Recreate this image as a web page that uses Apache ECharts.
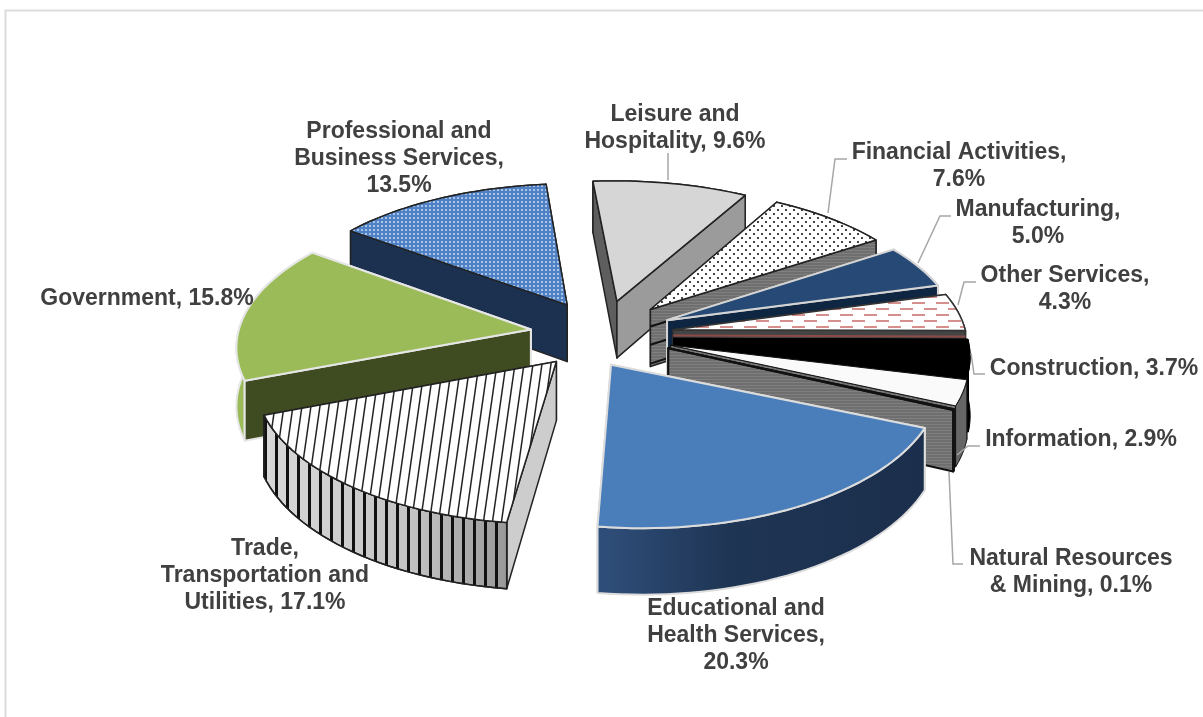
<!DOCTYPE html>
<html>
<head>
<meta charset="utf-8">
<title>Employment by industry</title>
<script src="https://cdn.jsdelivr.net/npm/echarts@6/dist/echarts.min.js"></script>
<style>
  html, body { margin: 0; padding: 0; background: #fff; }
  #chart { width: 1203px; height: 717px; }
</style>
</head>
<body>
<div id="chart"></div>
<script>
// values, clockwise from the top
const categories = ['Leisure and\nHospitality', 'Financial Activities', 'Manufacturing', 'Other Services', 'Construction',
  'Information', 'Natural Resources\n& Mining', 'Educational and\nHealth Services', 'Trade,\nTransportation and\nUtilities',
  'Government', 'Professional and\nBusiness Services'];
const shares = [9.6, 7.6, 5.0, 4.3, 3.7, 2.9, 0.1, 20.3, 17.1, 15.8, 13.5];
const labelSeparators = [', ', ',\n', ',\n', ',\n', ', ', ', ', ', ', ',\n', ', ', ', ', ',\n'];

// painter's order, back slices first
const drawOrder = [0, 10, 1, 2, 3, 9, 4, 5, 6, 8, 7];

// 3d pie settings
const centerX = 602, centerY = 334;
const radius = 293, explode = 72, depth = 58;
const tilt = 0.476, perspective = 0.000358;
const firstAngle = -5;
const apexNudge = [0, 0, 0, 0, 0, 0, 0, -26, 0, 0, 0];

function makeTile(w, h, draw) {
  const c = document.createElement('canvas');
  c.width = w;
  c.height = h;
  draw(c.getContext('2d'));
  return { image: c, repeat: 'repeat' };
}

const dotsFill = makeTile(8, 8, function (g) {
  g.fillStyle = '#fff'; g.fillRect(0, 0, 8, 8);
  g.fillStyle = '#444';
  g.fillRect(1, 1, 2, 2); g.fillRect(5, 5, 2, 2);
});
const gridFill = makeTile(4, 4, function (g) {
  g.fillStyle = '#4f81c4'; g.fillRect(0, 0, 4, 4);
  g.fillStyle = '#a9c6ea'; g.fillRect(1, 1, 2, 2);
});
const dashFill = makeTile(24, 12, function (g) {
  g.fillStyle = '#fff'; g.fillRect(0, 0, 24, 12);
  g.fillStyle = '#d58f8d';
  g.fillRect(0, 2, 13, 2);
  g.fillRect(12, 8, 12, 2); g.fillRect(0, 8, 1, 2);
});
const slantFill = makeTile(9, 63, function (g) {
  g.fillStyle = '#fff'; g.fillRect(0, 0, 9, 63);
  g.strokeStyle = '#222'; g.lineWidth = 1.5;
  [-9, 0, 9].forEach(function (o) {
    g.beginPath(); g.moveTo(o, 63); g.lineTo(o + 9, 0); g.stroke();
  });
});
const barsFill = makeTile(11, 4, function (g) {
  g.fillStyle = '#111'; g.fillRect(0, 0, 3, 4);
});
const wallLines = makeTile(4, 3, function (g) {
  g.fillStyle = '#6f6f6f'; g.fillRect(0, 0, 4, 3);
  g.fillStyle = '#7f7f7f'; g.fillRect(0, 1, 4, 1);
});
const eduWall = new echarts.graphic.LinearGradient(0, 0, 1, 0, [
  { offset: 0, color: '#2f4f7b' }, { offset: 0.4, color: '#1f3554' }, { offset: 1, color: '#1b2f4c' }
]);
const tradeWall = new echarts.graphic.LinearGradient(0, 0, 1, 0, [
  { offset: 0, color: '#d8d8d8' }, { offset: 0.6, color: '#c4c4c4' }, { offset: 1, color: '#999' }
]);

// top, wall at start angle, wall at end angle, outer wall, outline, outline width
const sliceStyles = [
  { top: '#d6d6d6', start: '#5e5e5e', end: '#9b9b9b', outer: '#9b9b9b', line: '#222', width: 1.5 },
  { top: dotsFill, start: '#999', end: wallLines, outer: '#8c8c8c', line: '#222', width: 1.5, bands: [0.3, 0.62, 0.95], bandColor: '#111' },
  { top: '#264a75', start: '#0f2642', end: '#0f2642', outer: '#1a3658', line: '#d4d4d4', width: 2 },
  { top: dashFill, start: '#444', end: '#444', outer: '#777', line: '#333', width: 1.5, bands: [0.1], bandColor: '#8c4b49' },
  { top: '#000', start: '#000', end: '#000', outer: '#000', line: '#000', width: 1 },
  { top: '#fafafa', start: wallLines, end: wallLines, outer: '#666', line: '#111', width: 1 },
  { top: '#000', start: wallLines, end: wallLines, outer: '#000', line: '#111', width: 2 },
  { top: '#4a7ebb', start: '#1c3050', end: '#1c3050', outer: eduWall, line: '#dcdcdc', width: 2 },
  { top: slantFill, start: '#cdcdcd', end: '#cdcdcd', outer: tradeWall, outerOver: barsFill, line: '#222', width: 1.5 },
  { top: '#9bbb59', start: '#3f4b20', end: '#3f4b20', outer: '#9bbb59', line: '#e6e6e6', width: 2 },
  { top: gridFill, start: '#1c314f', end: '#1c314f', outer: '#1c314f', line: '#222', width: 1.5 }
];

function project(x, y, z) {
  const s = 1 / (1 + perspective * y);
  return [centerX + x * s, centerY - (tilt * y + z) * s];
}

function rad(d) { return d * Math.PI / 180; }

// slice angles come from the shares
const sliceAngles = [];
shares.reduce(function (sum, v) {
  sliceAngles.push([firstAngle + sum * 3.6, firstAngle + (sum + v) * 3.6]);
  return sum + v;
}, 0);

function renderSlice(params, api) {
  const i = drawOrder[params.dataIndex];
  const st = sliceStyles[i];
  const a0 = sliceAngles[i][0], a1 = sliceAngles[i][1];
  const mid = rad((a0 + a1) / 2);
  const ox = explode * Math.sin(mid), oy = explode * Math.cos(mid);

  const apex = function (z) { return project(ox + apexNudge[i], oy, z); };
  const rim = function (a, z) {
    return project(ox + radius * Math.sin(rad(a)), oy + radius * Math.cos(rad(a)), z);
  };
  const arc = function (z) {
    const pts = [];
    const n = Math.max(2, Math.ceil((a1 - a0) / 2));
    for (let k = 0; k <= n; k++) pts.push(rim(a0 + (a1 - a0) * k / n, z));
    return pts;
  };
  const outline = { stroke: st.line, lineWidth: st.width, lineJoin: 'round' };
  const poly = function (points, fill) {
    return { type: 'polygon', silent: true, shape: { points: points }, style: Object.assign({ fill: fill }, outline) };
  };
  const radial = function (a, fill) {
    const out = [poly([apex(0), rim(a, 0), rim(a, -depth), apex(-depth)], fill)];
    (st.bands || []).forEach(function (b) {
      out.push({
        type: 'polyline', silent: true,
        shape: { points: [apex(-depth * b), rim(a, -depth * b)] },
        style: { stroke: st.bandColor, lineWidth: 2, fill: null }
      });
    });
    return out;
  };

  const walls = [
    { y: oy + radius * Math.cos(rad(a0)) / 2, els: radial(a0, st.start) },
    { y: oy + radius * Math.cos(rad(a1)) / 2, els: radial(a1, st.end) }
  ];
  const band = arc(0).concat(arc(-depth).reverse());
  const outerEls = [poly(band, st.outer)];
  if (st.outerOver) outerEls.push(poly(band, st.outerOver));
  walls.push({ y: oy + radius * 0.9 * Math.cos(mid), els: outerEls });
  walls.sort(function (a, b) { return b.y - a.y; });

  let children = [];
  walls.forEach(function (w) { children = children.concat(w.els); });
  children.push(poly([apex(0)].concat(arc(0)), st.top));
  return { type: 'group', children: children };
}

// label anchor is the centre of the first line
const labelPlaces = [
  [675, 101], [959, 139], [1038, 196], [1065, 262], [1094, 355],
  [1081, 426], [1071, 545], [736, 595], [265, 535], [147, 285], [399, 118]
];
const leaders = [
  [[668, 180], [668, 153]],
  [[828, 213], [835, 159], [847, 159]],
  [[918, 263], [940, 216], [951, 216]],
  [[958, 305], [964, 282], [976, 282]],
  [[971, 353], [974, 374], [985, 374]],
  [[957, 455], [968, 446], [980, 446]],
  [[949, 472], [953, 564], [963, 564]]
];

const graphics = [{
  type: 'polyline', silent: true, z: 0,
  shape: { points: [[5.5, 717], [5.5, 10.5], [1203, 10.5]] },
  style: { stroke: '#dcdcdc', lineWidth: 2, fill: null }
}];
leaders.forEach(function (pts) {
  graphics.push({
    type: 'polyline', silent: true, z: 50,
    shape: { points: pts },
    style: { stroke: '#a6a6a6', lineWidth: 1.5, fill: null }
  });
});
categories.forEach(function (name, i) {
  graphics.push({
    type: 'text', silent: true, z: 60,
    x: labelPlaces[i][0], y: labelPlaces[i][1],
    style: {
      text: name + labelSeparators[i] + shares[i].toFixed(1) + '%',
      font: 'bold 23px "Liberation Sans", Arial, sans-serif',
      fill: '#404040',
      align: 'center',
      verticalAlign: 'top',
      lineHeight: 27
    }
  });
});

const chart = echarts.init(document.getElementById('chart'), null, { renderer: 'canvas' });
chart.setOption({
  backgroundColor: '#fff',
  animation: false,
  graphic: graphics,
  series: [{
    type: 'custom',
    coordinateSystem: 'none',
    silent: true,
    z: 10,
    renderItem: renderSlice,
    data: drawOrder.map(function (i) { return { name: categories[i], value: shares[i] }; })
  }]
});
</script>
</body>
</html>
